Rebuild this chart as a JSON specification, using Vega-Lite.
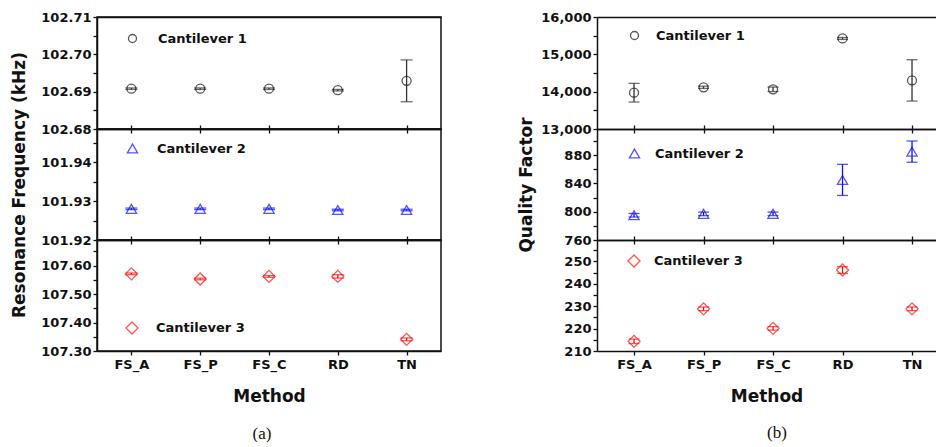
{
  "$schema": "https://vega.github.io/schema/vega-lite/v6.json",
  "background": "white",
  "autosize": {"type": "pad"},
  "padding": {"left": 10, "top": 10, "right": 0, "bottom": 0},
  "spacing": 75,
  "bounds": "full",
  "config": {
    "font": "DejaVu Sans",
    "view": {"stroke": "#111", "strokeWidth": 1.5},
    "axis": {"labelFont": "DejaVu Sans", "labelFontWeight": "bold", "labelFontSize": 13, "labelColor": "#111", "domainColor": "#111", "domainWidth": 1.5, "tickColor": "#111", "tickWidth": 1.3, "tickSize": 4, "labelPadding": 2, "grid": false, "titleFont": "DejaVu Sans", "titleFontWeight": "bold", "titleFontSize": 17, "titleColor": "#111", "labelOverlap": false, "labelFlush": false, "labelBound": false},
    "legend": {"labelFont": "DejaVu Sans", "labelFontWeight": "bold", "labelFontSize": 13, "labelColor": "#111", "padding": 0, "orient": "none", "symbolStrokeWidth": 1.3},
    "title": {"font": "Liberation Serif", "fontSize": 17, "fontWeight": "normal", "color": "#111"}
  },
  "resolve": {"scale": {"color": "independent", "shape": "independent", "y": "independent", "x": "independent"}, "legend": {"color": "independent", "shape": "independent"}},
  "hconcat": [
    {
      "title": {"text": "(a)", "orient": "bottom", "anchor": "middle", "dx": 36, "offset": 21},
      "spacing": 0,
      "bounds": "flush",
      "resolve": {"scale": {"color": "independent", "shape": "independent", "y": "independent"}, "legend": {"color": "independent", "shape": "independent"}},
      "vconcat": [
        {
          "width": 344, "height": 112,
          "data": {"values": [
            {"method": "FS_A", "v": 102.6908, "err": 0.0002, "series": "Cantilever 1"},
            {"method": "FS_P", "v": 102.6908, "err": 0.0002, "series": "Cantilever 1"},
            {"method": "FS_C", "v": 102.6908, "err": 0.0002, "series": "Cantilever 1"},
            {"method": "RD", "v": 102.6904, "err": 0.0002, "series": "Cantilever 1"},
            {"method": "TN", "v": 102.6929, "err": 0.0056, "series": "Cantilever 1"}
          ]},
          "resolve": {"axis": {"x": "independent"}},
          "layer": [
            {
              "mark": {"type": "errorbar", "ticks": true, "size": 12, "thickness": 1.3, "color": "#333"},
              "encoding": {
                "x": {"field": "method", "type": "nominal", "scale": {"type": "point", "padding": 0.5, "domain": ["FS_A", "FS_P", "FS_C", "RD", "TN"]}, "axis": {"orient": "top", "labels": false, "ticks": false, "title": null}},
                "y": {"field": "v", "type": "quantitative", "scale": {"domain": [102.68, 102.71], "nice": false, "zero": false}, "axis": {"title": null, "format": ".2f", "values": [102.68, 102.685, 102.69, 102.695, 102.70, 102.705, 102.71], "labelExpr": "round(datum.value*1000) % 10 == 0 ? datum.label : ''"}},
                "yError": {"field": "err"}
              }
            },
            {
              "mark": {"type": "point", "filled": false, "strokeWidth": 1.3, "size": 81},
              "encoding": {
                "x": {"field": "method", "type": "nominal", "scale": {"type": "point", "padding": 0.5, "domain": ["FS_A", "FS_P", "FS_C", "RD", "TN"]}, "axis": {"orient": "bottom", "labels": false, "title": null}},
                "y": {"field": "v", "type": "quantitative", "scale": {"domain": [102.68, 102.71], "nice": false, "zero": false}, "axis": {"title": null, "format": ".2f", "values": [102.68, 102.685, 102.69, 102.695, 102.70, 102.705, 102.71], "labelExpr": "round(datum.value*1000) % 10 == 0 ? datum.label : ''"}},
                "shape": {"field": "series", "type": "nominal", "scale": {"range": ["circle"]}, "legend": {"title": null, "legendX": 29, "legendY": 15, "symbolSize": 64, "labelOffset": 19}},
                "color": {"field": "series", "type": "nominal", "scale": {"range": ["#111"]}, "legend": {"title": null, "legendX": 29, "legendY": 15, "symbolSize": 64, "labelOffset": 19}}
              }
            }
          ]
        },
        {
          "width": 344, "height": 111,
          "data": {"values": [
            {"method": "FS_A", "v": 101.928, "err": 0.0002, "series": "Cantilever 2"},
            {"method": "FS_P", "v": 101.928, "err": 0.0002, "series": "Cantilever 2"},
            {"method": "FS_C", "v": 101.928, "err": 0.0002, "series": "Cantilever 2"},
            {"method": "RD", "v": 101.9277, "err": 0.0002, "series": "Cantilever 2"},
            {"method": "TN", "v": 101.9277, "err": 0.0002, "series": "Cantilever 2"}
          ]},
          "resolve": {"axis": {"x": "independent"}},
          "layer": [
            {
              "mark": {"type": "errorbar", "ticks": true, "size": 12, "thickness": 1.3, "color": "#0d0dff"},
              "encoding": {
                "x": {"field": "method", "type": "nominal", "scale": {"type": "point", "padding": 0.5, "domain": ["FS_A", "FS_P", "FS_C", "RD", "TN"]}, "axis": {"orient": "top", "labels": false, "title": null}},
                "y": {"field": "v", "type": "quantitative", "scale": {"domain": [101.92, 101.9485], "nice": false, "zero": false}, "axis": {"title": "Resonance Frequency (kHz)", "titlePadding": 12, "format": ".2f", "values": [101.92, 101.925, 101.93, 101.935, 101.94, 101.945], "labelExpr": "round(datum.value*1000) % 10 == 0 ? datum.label : ''"}},
                "yError": {"field": "err"}
              }
            },
            {
              "mark": {"type": "point", "filled": false, "strokeWidth": 1.3, "size": 105},
              "encoding": {
                "x": {"field": "method", "type": "nominal", "scale": {"type": "point", "padding": 0.5, "domain": ["FS_A", "FS_P", "FS_C", "RD", "TN"]}, "axis": {"orient": "bottom", "labels": false, "title": null}},
                "y": {"field": "v", "type": "quantitative", "scale": {"domain": [101.92, 101.9485], "nice": false, "zero": false}, "axis": {"title": "Resonance Frequency (kHz)", "titlePadding": 12, "format": ".2f", "values": [101.92, 101.925, 101.93, 101.935, 101.94, 101.945], "labelExpr": "round(datum.value*1000) % 10 == 0 ? datum.label : ''"}},
                "shape": {"field": "series", "type": "nominal", "scale": {"range": ["triangle-up"]}, "legend": {"title": null, "legendX": 29, "legendY": 13, "symbolSize": 105, "labelOffset": 18}},
                "color": {"field": "series", "type": "nominal", "scale": {"range": ["#0d0dff"]}, "legend": {"title": null, "legendX": 29, "legendY": 13, "symbolSize": 105, "labelOffset": 18}}
              }
            }
          ]
        },
        {
          "width": 344, "height": 111,
          "data": {"values": [
            {"method": "FS_A", "v": 107.571, "err": 0.003, "series": "Cantilever 3"},
            {"method": "FS_P", "v": 107.553, "err": 0.003, "series": "Cantilever 3"},
            {"method": "FS_C", "v": 107.562, "err": 0.003, "series": "Cantilever 3"},
            {"method": "RD", "v": 107.562, "err": 0.006, "series": "Cantilever 3"},
            {"method": "TN", "v": 107.341, "err": 0.005, "series": "Cantilever 3"}
          ]},
          "resolve": {"axis": {"x": "independent"}},
          "layer": [
            {
              "mark": {"type": "errorbar", "ticks": true, "size": 12, "thickness": 1.3, "color": "#ff0d0d"},
              "encoding": {
                "x": {"field": "method", "type": "nominal", "scale": {"type": "point", "padding": 0.5, "domain": ["FS_A", "FS_P", "FS_C", "RD", "TN"]}, "axis": {"orient": "top", "labels": false, "title": null}},
                "y": {"field": "v", "type": "quantitative", "scale": {"domain": [107.3, 107.69], "nice": false, "zero": false}, "axis": {"title": null, "format": ".2f", "values": [107.3, 107.35, 107.4, 107.45, 107.5, 107.55, 107.6, 107.65], "labelExpr": "round(datum.value*100) % 10 == 0 ? datum.label : ''"}},
                "yError": {"field": "err"}
              }
            },
            {
              "mark": {"type": "point", "filled": false, "strokeWidth": 1.3, "size": 145},
              "encoding": {
                "x": {"field": "method", "type": "nominal", "scale": {"type": "point", "padding": 0.5, "domain": ["FS_A", "FS_P", "FS_C", "RD", "TN"]}, "axis": {"orient": "bottom", "labels": true, "title": "Method", "titlePadding": 17, "labelPadding": 3, "labelAngle": 0}},
                "y": {"field": "v", "type": "quantitative", "scale": {"domain": [107.3, 107.69], "nice": false, "zero": false}, "axis": {"title": null, "format": ".2f", "values": [107.3, 107.35, 107.4, 107.45, 107.5, 107.55, 107.6, 107.65], "labelExpr": "round(datum.value*100) % 10 == 0 ? datum.label : ''"}},
                "shape": {"field": "series", "type": "nominal", "scale": {"range": ["diamond"]}, "legend": {"title": null, "legendX": 28, "legendY": 81, "symbolSize": 145, "labelOffset": 17}},
                "color": {"field": "series", "type": "nominal", "scale": {"range": ["#ff0d0d"]}, "legend": {"title": null, "legendX": 28, "legendY": 81, "symbolSize": 145, "labelOffset": 17}}
              }
            }
          ]
        }
      ]
    },
    {
      "title": {"text": "(b)", "orient": "bottom", "anchor": "middle", "dx": 50, "offset": 21},
      "spacing": 0,
      "bounds": "flush",
      "resolve": {"scale": {"color": "independent", "shape": "independent", "y": "independent"}, "legend": {"color": "independent", "shape": "independent"}},
      "vconcat": [
        {
          "width": 339, "height": 112,
          "view": {"stroke": null},
          "data": {"values": [
            {"method": "FS_A", "v": 13973, "err": 250, "series": "Cantilever 1"},
            {"method": "FS_P", "v": 14117, "err": 30, "series": "Cantilever 1"},
            {"method": "FS_C", "v": 14064, "err": 60, "series": "Cantilever 1"},
            {"method": "RD", "v": 15426, "err": 25, "series": "Cantilever 1"},
            {"method": "TN", "v": 14303, "err": 553, "series": "Cantilever 1"}
          ]},
          "resolve": {"axis": {"x": "independent"}},
          "layer": [
            {
              "mark": {"type": "errorbar", "ticks": true, "size": 11, "thickness": 1.3, "color": "#333"},
              "encoding": {
                "x": {"field": "method", "type": "nominal", "scale": {"type": "point", "padding": 0.439, "align": 0.607, "domain": ["FS_A", "FS_P", "FS_C", "RD", "TN"]}, "axis": {"orient": "top", "labels": false, "ticks": false, "title": null}},
                "y": {"field": "v", "type": "quantitative", "scale": {"domain": [13000, 16000], "nice": false, "zero": false}, "axis": {"title": null, "format": ",.0f", "values": [13000, 13500, 14000, 14500, 15000, 15500, 16000], "labelExpr": "datum.value % 1000 == 0 ? datum.label : ''"}},
                "yError": {"field": "err"}
              }
            },
            {
              "mark": {"type": "point", "filled": false, "strokeWidth": 1.3, "size": 81},
              "encoding": {
                "x": {"field": "method", "type": "nominal", "scale": {"type": "point", "padding": 0.439, "align": 0.607, "domain": ["FS_A", "FS_P", "FS_C", "RD", "TN"]}, "axis": {"orient": "bottom", "labels": false, "title": null}},
                "y": {"field": "v", "type": "quantitative", "scale": {"domain": [13000, 16000], "nice": false, "zero": false}, "axis": {"title": null, "format": ",.0f", "values": [13000, 13500, 14000, 14500, 15000, 15500, 16000], "labelExpr": "datum.value % 1000 == 0 ? datum.label : ''"}},
                "shape": {"field": "series", "type": "nominal", "scale": {"range": ["circle"]}, "legend": {"title": null, "legendX": 31, "legendY": 12, "symbolSize": 64, "labelOffset": 15}},
                "color": {"field": "series", "type": "nominal", "scale": {"range": ["#111"]}, "legend": {"title": null, "legendX": 31, "legendY": 12, "symbolSize": 64, "labelOffset": 15}}
              }
            }
          ]
        },
        {
          "width": 339, "height": 111,
          "view": {"stroke": null},
          "data": {"values": [
            {"method": "FS_A", "v": 795, "err": 2.5, "series": "Cantilever 2"},
            {"method": "FS_P", "v": 797, "err": 2.5, "series": "Cantilever 2"},
            {"method": "FS_C", "v": 797, "err": 2.5, "series": "Cantilever 2"},
            {"method": "RD", "v": 845, "err": 22, "series": "Cantilever 2"},
            {"method": "TN", "v": 885, "err": 15, "series": "Cantilever 2"}
          ]},
          "resolve": {"axis": {"x": "independent"}},
          "layer": [
            {
              "mark": {"type": "errorbar", "ticks": true, "size": 11, "thickness": 1.3, "color": "#0d0dff"},
              "encoding": {
                "x": {"field": "method", "type": "nominal", "scale": {"type": "point", "padding": 0.439, "align": 0.607, "domain": ["FS_A", "FS_P", "FS_C", "RD", "TN"]}, "axis": {"orient": "top", "labels": false, "title": null}},
                "y": {"field": "v", "type": "quantitative", "scale": {"domain": [760, 917], "nice": false, "zero": false}, "axis": {"title": "Quality Factor", "titlePadding": 28, "values": [760, 780, 800, 820, 840, 860, 880, 900], "labelExpr": "datum.value % 40 == 0 ? datum.label : ''"}},
                "yError": {"field": "err"}
              }
            },
            {
              "mark": {"type": "point", "filled": false, "strokeWidth": 1.3, "size": 105},
              "encoding": {
                "x": {"field": "method", "type": "nominal", "scale": {"type": "point", "padding": 0.439, "align": 0.607, "domain": ["FS_A", "FS_P", "FS_C", "RD", "TN"]}, "axis": {"orient": "bottom", "labels": false, "title": null}},
                "y": {"field": "v", "type": "quantitative", "scale": {"domain": [760, 917], "nice": false, "zero": false}, "axis": {"title": "Quality Factor", "titlePadding": 28, "values": [760, 780, 800, 820, 840, 860, 880, 900], "labelExpr": "datum.value % 40 == 0 ? datum.label : ''"}},
                "shape": {"field": "series", "type": "nominal", "scale": {"range": ["triangle-up"]}, "legend": {"title": null, "legendX": 31, "legendY": 18, "symbolSize": 105, "labelOffset": 14}},
                "color": {"field": "series", "type": "nominal", "scale": {"range": ["#0d0dff"]}, "legend": {"title": null, "legendX": 31, "legendY": 18, "symbolSize": 105, "labelOffset": 14}}
              }
            }
          ]
        },
        {
          "width": 339, "height": 111,
          "view": {"stroke": null},
          "data": {"values": [
            {"method": "FS_A", "v": 214.3, "err": 1.0, "series": "Cantilever 3"},
            {"method": "FS_P", "v": 228.8, "err": 0.8, "series": "Cantilever 3"},
            {"method": "FS_C", "v": 220.1, "err": 0.8, "series": "Cantilever 3"},
            {"method": "RD", "v": 246.1, "err": 1.5, "series": "Cantilever 3"},
            {"method": "TN", "v": 228.8, "err": 0.8, "series": "Cantilever 3"}
          ]},
          "resolve": {"axis": {"x": "independent"}},
          "layer": [
            {
              "mark": {"type": "errorbar", "ticks": true, "size": 11, "thickness": 1.3, "color": "#ff0d0d"},
              "encoding": {
                "x": {"field": "method", "type": "nominal", "scale": {"type": "point", "padding": 0.439, "align": 0.607, "domain": ["FS_A", "FS_P", "FS_C", "RD", "TN"]}, "axis": {"orient": "top", "labels": false, "title": null}},
                "y": {"field": "v", "type": "quantitative", "scale": {"domain": [210, 259.5], "nice": false, "zero": false}, "axis": {"title": null, "values": [210, 215, 220, 225, 230, 235, 240, 245, 250, 255], "labelExpr": "datum.value % 10 == 0 ? datum.label : ''"}},
                "yError": {"field": "err"}
              }
            },
            {
              "mark": {"type": "point", "filled": false, "strokeWidth": 1.3, "size": 145},
              "encoding": {
                "x": {"field": "method", "type": "nominal", "scale": {"type": "point", "padding": 0.439, "align": 0.607, "domain": ["FS_A", "FS_P", "FS_C", "RD", "TN"]}, "axis": {"orient": "bottom", "labels": true, "title": "Method", "titlePadding": 17, "labelPadding": 3, "labelAngle": 0}},
                "y": {"field": "v", "type": "quantitative", "scale": {"domain": [210, 259.5], "nice": false, "zero": false}, "axis": {"title": null, "values": [210, 215, 220, 225, 230, 235, 240, 245, 250, 255], "labelExpr": "datum.value % 10 == 0 ? datum.label : ''"}},
                "shape": {"field": "series", "type": "nominal", "scale": {"range": ["diamond"]}, "legend": {"title": null, "legendX": 30, "legendY": 14, "symbolSize": 145, "labelOffset": 13}},
                "color": {"field": "series", "type": "nominal", "scale": {"range": ["#ff0d0d"]}, "legend": {"title": null, "legendX": 30, "legendY": 14, "symbolSize": 145, "labelOffset": 13}}
              }
            }
          ]
        }
      ]
    }
  ]
}
